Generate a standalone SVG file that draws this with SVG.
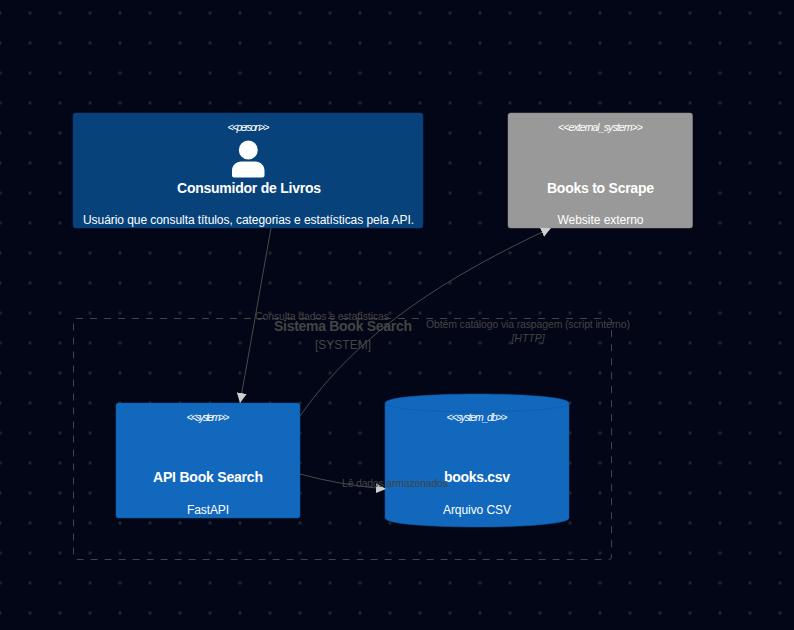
<svg xmlns="http://www.w3.org/2000/svg" width="794" height="630" viewBox="0 0 794 630">
<style>
text{font-family:"Liberation Sans",Arial,sans-serif;text-anchor:middle}
.st{fill:#fff;font-size:10.5px;font-style:italic}
.ti{fill:#fff;font-size:14px;font-weight:bold}
.de{fill:#fff;font-size:12px}
.lb{fill:#444;font-size:10.5px}
.cn{fill:none;stroke:#4a4a4a;stroke-width:1}
</style>
<defs>
<pattern id="dots" width="30" height="30" patternUnits="userSpaceOnUse" x="0" y="13">
<circle cx="0" cy="0" r="1.7" fill="#20242d"/><circle cx="30" cy="0" r="1.7" fill="#20242d"/><circle cx="0" cy="30" r="1.7" fill="#20242d"/><circle cx="30" cy="30" r="1.7" fill="#20242d"/>
</pattern>
<marker id="arrow" markerWidth="10" markerHeight="10" refX="10" refY="5" orient="auto" markerUnits="userSpaceOnUse" viewBox="0 0 10 10"><path d="M0 0L10 5L0 10Z" fill="#cfcfcf"/></marker>
</defs>
<rect width="794" height="630" fill="#020617"/>
<rect width="794" height="630" fill="url(#dots)"/>
<g id="boundary">
<rect x="73.500" y="318.500" width="538" height="241" rx="2.500" fill="none" stroke="#444" stroke-dasharray="7 7"/>
<text x="343" y="331" textLength="138" style="font-size:14px;font-weight:bold;fill:#444">Sistema Book Search</text>
<text x="343" y="349" style="font-size:12px;fill:#444">[SYSTEM]</text>
</g>
<g id="person">
<rect x="73" y="113" width="350" height="115" rx="2.500" fill="#08427b" stroke="#073b6f" stroke-width="0.500"/>
<text class="st" x="248.500" y="131" textLength="42">&lt;&lt;person&gt;&gt;</text>
<path d="M248.300 140.500a9.500 9.500 0 1 1 0 19a9.500 9.500 0 1 1 0-19ZM241.500 161.500h13.600c5.500 0 9.400 4 9.400 9v5c0 1.300-1 2-2 2h-28.500c-1 0-2-.7-2-2v-5c0-5 4-9 9.500-9Z" fill="#fff"/>
<text class="ti" x="249" y="193" textLength="144">Consumidor de Livros</text>
<text class="de" x="248.500" y="224" textLength="331">Usuário que consulta títulos, categorias e estatísticas pela API.</text>
</g>
<g id="external">
<rect x="508" y="113" width="184.500" height="115" rx="2.500" fill="#999" stroke="#8a8a8a" stroke-width="0.500"/>
<text class="st" x="600.500" y="131" textLength="85">&lt;&lt;external_system&gt;&gt;</text>
<text class="ti" x="600.500" y="193" textLength="107">Books to Scrape</text>
<text class="de" x="600.500" y="224" textLength="86">Website externo</text>
</g>
<g id="api">
<rect x="116" y="403" width="184" height="115" rx="2.500" fill="#1168bd" stroke="#0e5aa5" stroke-width="0.500"/>
<text class="st" x="208" y="421" textLength="43">&lt;&lt;system&gt;&gt;</text>
<text class="ti" x="208" y="482" textLength="110">API Book Search</text>
<text class="de" x="208" y="514" textLength="42">FastAPI</text>
</g>
<g id="db">
<path d="M385 403c0-12 184-12 184 0v115c0 12-184 12-184 0Z" fill="#1168bd" stroke="#0e5aa5" stroke-width="0.500"/>
<path d="M385 403c0 12 184 12 184 0" fill="none" stroke="#0e5aa5" stroke-width="0.500"/>
<text class="st" x="477" y="421" textLength="61">&lt;&lt;system_db&gt;&gt;</text>
<text class="ti" x="477" y="482" textLength="66">books.csv</text>
<text class="de" x="477" y="514" textLength="68">Arquivo CSV</text>
</g>
<g id="connectors">
<path class="cn" d="M271 228L240 403" marker-end="url(#arrow)"/>
<path class="cn" d="M300 416C360 330 450 275 551 228" marker-end="url(#arrow)"/>
<path class="cn" d="M300 474Q340 485 386 489" marker-end="url(#arrow)"/>
<text class="lb" x="322" y="320" textLength="134">Consulta dados e estatísticas</text>
<text class="lb" x="528" y="328" textLength="204">Obtém catálogo via raspagem (script interno)</text>
<text class="lb" x="528" y="342" style="font-style:italic">[HTTP]</text>
<text class="lb" x="395" y="487" textLength="106">Lê dados armazenados</text>
</g>
</svg>
